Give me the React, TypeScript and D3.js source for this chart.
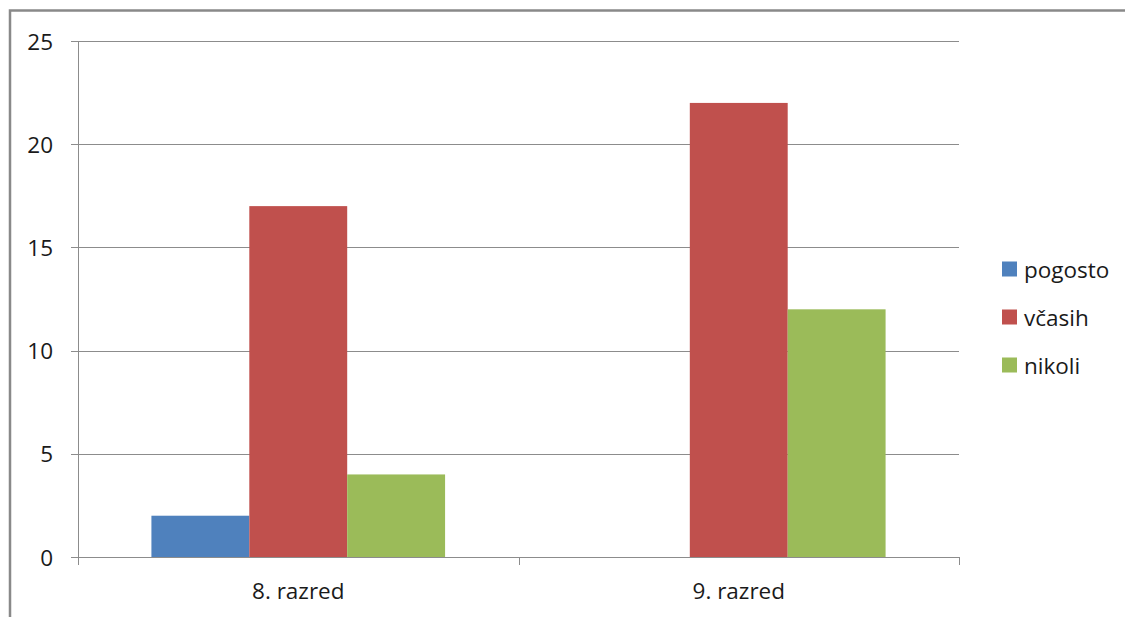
import React from "react";
import * as d3 from "d3";

// Survey answers per grade
const categories = ["8. razred", "9. razred"];
const seriesNames = ["pogosto", "včasih", "nikoli"];
const pogosto = [2, 0];
const vcasih = [17, 22];
const nikoli = [4, 12];
const yTicks = [0, 5, 10, 15, 20, 25];

const seriesValues = [pogosto, vcasih, nikoli];
const colors = ["#4F81BD", "#C0504D", "#9BBB59"];

const W = 1125;
const H = 617;
const plot = { left: 78, right: 959, top: 41, bottom: 557 };
const font = "'Open Sans', 'Noto Sans', sans-serif";
const fontSize = 22.5;

export default function App() {
  const x0 = d3
    .scaleBand<string>()
    .domain(categories)
    .range([plot.left, plot.right])
    .paddingInner(0)
    .paddingOuter(0);
  const bandW = x0.bandwidth();
  const groupW = (bandW * 3) / 4.5;
  const x1 = d3
    .scaleBand<string>()
    .domain(seriesNames)
    .range([0, groupW])
    .padding(0);
  const y = d3.scaleLinear().domain([0, 25]).range([plot.bottom, plot.top]);

  const gridColor = "#8C8C8C";

  return (
    <svg
      width={W}
      height={H}
      style={{ position: "absolute", left: 0, top: 0, background: "#fff" }}
    >
      {/* outer chart frame */}
      <rect
        x={10}
        y={10.5}
        width={W + 20}
        height={H + 20}
        fill="#fff"
        stroke="#898989"
        strokeWidth={2.5}
      />

      {/* gridlines and value axis */}
      {yTicks.map((t) => (
        <g key={t}>
          <line
            x1={plot.left - 7}
            x2={plot.right}
            y1={Math.round(y(t)) + 0.5}
            y2={Math.round(y(t)) + 0.5}
            stroke={gridColor}
            strokeWidth={1}
          />
          <text
            x={53}
            y={y(t)}
            textAnchor="end"
            dominantBaseline="central"
            fontFamily={font}
            fontSize={fontSize}
            fill="#1a1a1a"
          >
            {t}
          </text>
        </g>
      ))}
      <line
        x1={plot.left + 0.5}
        x2={plot.left + 0.5}
        y1={plot.top}
        y2={plot.bottom + 8}
        stroke={gridColor}
      />

      {/* bars */}
      {categories.map((c, ci) => {
        const gx = (x0(c) as number) + (bandW - groupW) / 2;
        return (
          <g key={c}>
            {seriesNames.map((s, si) => {
              const v = seriesValues[si][ci];
              if (!v) return null;
              return (
                <rect
                  key={s}
                  x={gx + (x1(s) as number)}
                  y={y(v)}
                  width={x1.bandwidth()}
                  height={y(0) - y(v)}
                  fill={colors[si]}
                />
              );
            })}
          </g>
        );
      })}

      {/* category axis */}
      <line
        x1={plot.left}
        x2={plot.right}
        y1={plot.bottom + 0.5}
        y2={plot.bottom + 0.5}
        stroke={gridColor}
      />
      {[plot.left, ...categories.map((c) => (x0(c) as number) + bandW)].map(
        (tx, i) => (
          <line
            key={i}
            x1={Math.round(tx) + 0.5}
            x2={Math.round(tx) + 0.5}
            y1={plot.bottom}
            y2={plot.bottom + 8}
            stroke={gridColor}
          />
        )
      )}
      {categories.map((c) => (
        <text
          key={c}
          x={(x0(c) as number) + bandW / 2}
          y={599}
          textAnchor="middle"
          fontFamily={font}
          fontSize={fontSize}
          fill="#1a1a1a"
        >
          {c}
        </text>
      ))}

      {/* legend */}
      {seriesNames.map((s, i) => {
        const cy = 269 + i * 48;
        return (
          <g key={s}>
            <rect x={1002} y={cy - 7.5} width={15} height={15} fill={colors[i]} />
            <text
              x={1024}
              y={cy}
              dominantBaseline="central"
              fontFamily={font}
              fontSize={fontSize}
              fill="#1a1a1a"
            >
              {s}
            </text>
          </g>
        );
      })}
    </svg>
  );
}
